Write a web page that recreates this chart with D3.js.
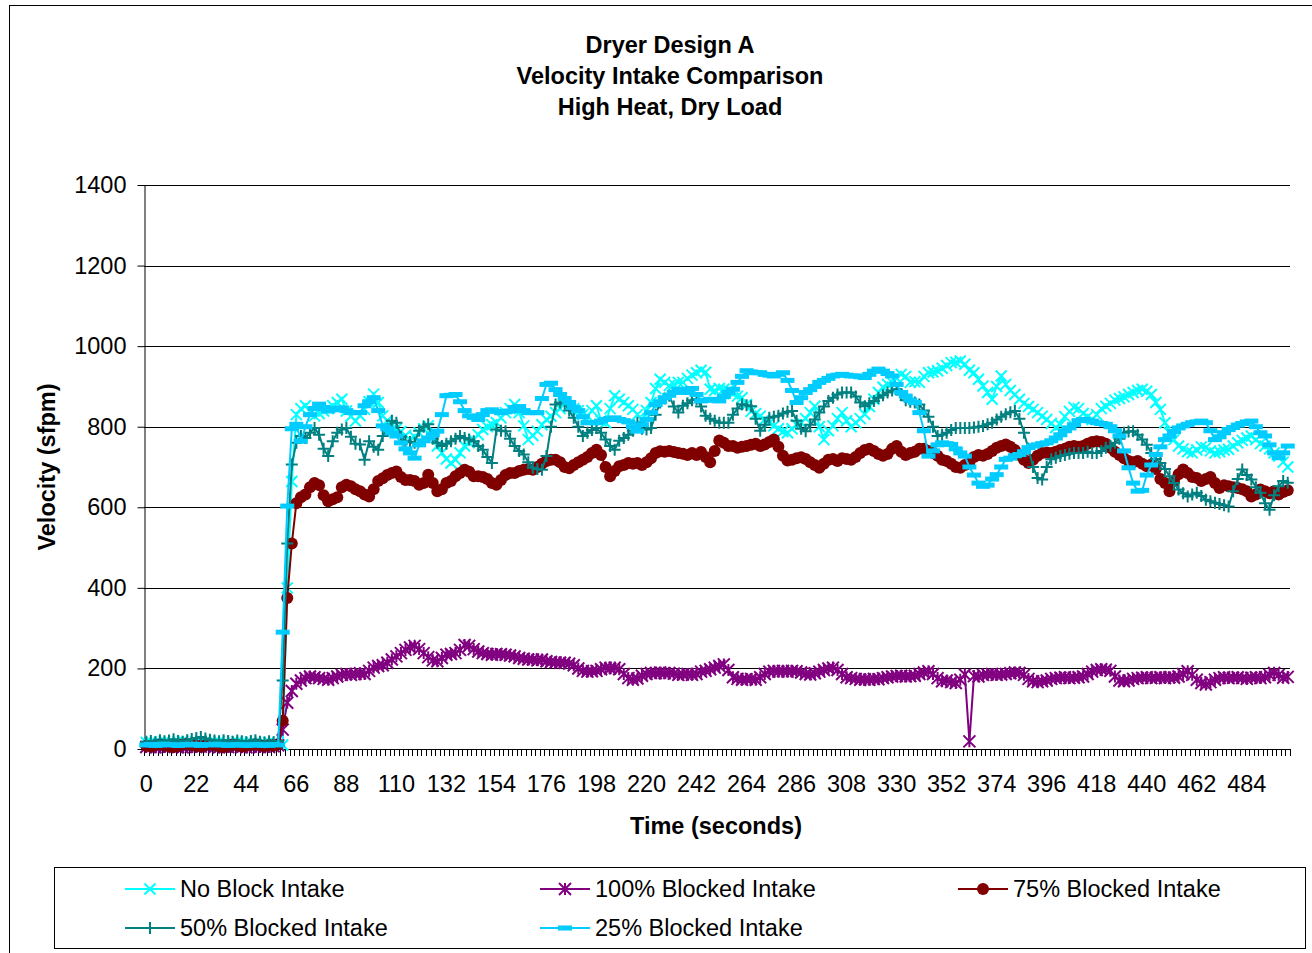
<!DOCTYPE html>
<html>
<head>
<meta charset="utf-8">
<script src="https://cdn.jsdelivr.net/npm/d3@7"></script>
<style>
  body { margin: 0; background: #fff; }
  svg text { font-family: "Liberation Sans", Arial, sans-serif; fill: #000; }
</style>
</head>
<body>
<div id="chart"></div>
<script>
// time axis: one sample every 2 seconds
var times = d3.range(0, 504, 2);
var yTicks = [0, 200, 400, 600, 800, 1000, 1200, 1400];
var titleLines = ["Dryer Design A", "Velocity Intake Comparison", "High Heat, Dry Load"];

var noBlock = [16,18,15,17,19,16,14,18,20,17,15,19,21,18,16,17,19,15,14,17,18,16,15,17,16,14,15,17,16,12,
  10,400,664,830,845,852,838,827,833,839,
  845,852,860,868,839,826,814,828,843,862,
  881,860,827,815,802,795,788,778,768,775,
  785,795,802,775,752,735,720,710,718,735,
  752,760,768,780,793,800,805,810,822,835,
  845,855,835,802,768,778,789,805,818,826,
  835,845,860,852,845,840,830,827,840,852,
  815,810,845,877,868,860,852,843,830,818,
  840,860,895,918,910,902,905,910,910,920,
  928,934,940,935,893,890,895,893,890,882,
  876,872,855,838,832,826,818,810,802,795,
  788,785,795,805,810,820,835,851,800,768,
  790,802,820,835,815,800,810,820,831,850,
  868,885,898,905,910,920,930,925,910,912,
  910,925,934,936,939,945,952,959,960,963,
  955,940,934,918,901,885,868,900,926,905,
  890,880,868,858,850,843,835,826,818,808,
  798,805,825,838,848,845,833,825,818,830,
  845,851,858,866,870,874,880,885,890,893,
  888,880,860,843,810,785,768,752,745,738,
  735,742,750,748,740,735,738,742,744,752,
  760,766,772,777,768,758,752,745,735,727,
  712,700];

var blocked100 = [5,6,4,7,5,6,8,5,4,6,7,5,6,8,7,5,4,6,5,7,6,5,4,6,7,5,6,5,7,9,
  48,115,144,162,170,176,180,178,176,174,
  172,176,180,184,186,184,186,188,186,194,
  202,206,208,214,222,230,238,246,252,256,
  248,238,228,220,218,226,234,236,238,246,
  258,256,248,242,238,236,234,236,235,234,
  232,230,226,224,222,222,220,222,218,216,
  215,214,214,212,208,200,194,192,193,194,
  198,202,200,202,198,186,176,172,175,182,
  186,189,188,190,188,189,187,184,185,186,
  184,186,192,194,198,202,206,210,196,178,
  174,172,173,174,172,178,186,192,194,192,
  194,192,194,193,190,186,185,188,192,196,
  200,202,196,186,178,176,174,172,173,172,
  174,173,176,178,180,181,182,180,181,182,
  186,190,193,186,176,168,170,166,164,172,
  185,19,181,180,184,185,186,184,185,186,
  188,190,189,184,174,168,166,168,170,174,
  176,177,178,176,177,178,180,186,192,196,
  198,197,194,180,170,168,170,174,176,177,
  178,176,177,178,176,178,177,180,186,193,
  184,172,164,160,166,172,176,178,176,177,
  178,176,174,177,178,176,178,184,189,184,
  177,179];

var blocked75 = [8,6,10,12,9,7,5,8,11,13,10,8,6,9,12,10,7,5,8,11,9,6,8,10,12,9,7,10,8,12,
  70,375,510,610,625,632,650,660,655,630,
  615,620,625,650,656,652,645,640,632,627,
  645,665,672,680,685,689,675,668,668,665,
  656,660,681,660,640,645,660,665,677,685,
  693,688,677,677,675,670,660,656,668,680,
  685,685,690,693,695,693,700,708,715,718,
  718,712,700,697,705,712,718,725,735,743,
  730,700,677,690,702,705,710,708,710,705,
  712,722,735,739,738,740,737,735,733,730,
  735,730,737,725,712,740,766,760,752,752,
  748,750,752,755,758,752,756,762,768,750,
  728,716,718,722,724,720,712,705,698,708,
  718,720,715,722,720,718,725,735,742,745,
  740,732,728,732,745,752,738,730,735,738,
  745,745,740,735,728,718,715,708,700,698,
  705,712,725,730,728,732,740,748,752,756,
  750,742,730,718,710,718,728,735,736,735,
  738,742,745,750,752,750,752,758,762,764,
  762,758,748,738,730,722,715,712,715,708,
  702,706,695,670,660,640,665,682,694,685,
  675,673,665,670,675,660,648,655,652,650,
  648,645,640,627,632,644,640,635,640,632,
  638,642];

var blocked50 = [18,20,17,22,19,21,24,20,18,22,25,27,30,26,23,21,19,22,20,18,21,19,17,20,22,18,16,19,17,20,
  170,510,706,760,777,772,785,797,780,745,
  727,764,785,793,797,775,758,756,718,764,
  750,743,777,795,815,810,775,765,762,760,
  790,800,806,770,760,752,758,764,770,777,
  772,768,764,752,743,725,710,793,790,789,
  770,752,740,731,712,698,695,693,727,800,
  855,860,858,840,822,800,777,785,792,797,
  785,768,752,743,765,772,780,790,810,795,
  793,797,830,860,870,877,850,835,852,858,
  866,868,850,827,820,815,810,810,810,830,
  845,856,853,851,820,790,805,822,825,827,
  833,837,839,815,795,789,805,818,835,850,
  864,872,880,885,885,885,875,860,851,858,
  864,872,878,885,890,893,880,866,862,860,
  855,840,825,800,777,780,785,792,797,797,
  797,797,798,800,802,806,810,818,825,831,
  836,839,820,785,745,700,673,669,700,719,
  723,727,730,733,735,735,735,738,735,735,
  740,748,752,760,770,785,788,789,780,768,
  755,735,720,710,695,677,660,644,635,627,
  632,636,628,619,615,611,608,605,602,640,
  670,694,680,669,650,636,610,594,630,652,
  665,661];

var blocked25 = [10,11,9,10,12,11,10,9,10,11,12,10,9,11,10,12,11,10,9,10,11,10,9,10,11,10,9,10,11,10,
  290,603,795,806,764,800,830,845,856,848,
  839,842,845,847,840,835,835,835,852,862,
  872,840,802,795,785,777,760,745,735,722,
  755,765,772,780,789,830,877,878,880,862,
  840,827,823,818,830,840,842,838,835,837,
  839,848,850,840,835,835,835,870,905,908,
  892,880,870,860,848,840,825,810,810,810,
  814,818,820,822,818,815,812,800,789,805,
  818,835,855,862,872,878,885,893,888,885,
  895,880,864,866,868,866,864,875,885,893,
  910,925,939,936,934,934,930,928,926,930,
  934,915,890,860,872,885,892,900,910,915,
  920,926,928,930,928,926,926,924,922,930,
  938,943,938,932,926,905,885,876,866,860,
  835,790,727,740,755,760,758,756,745,735,
  727,700,680,660,652,655,670,681,700,719,
  722,728,731,738,748,752,755,758,760,765,
  772,780,790,797,805,815,818,816,814,810,
  808,806,800,790,777,740,698,660,640,642,
  680,705,731,750,768,777,788,797,802,806,
  810,812,814,810,790,768,775,785,793,798,
  804,808,812,814,800,785,777,755,735,723,
  735,752];

var series = [
  {name: "No Block Intake", values: noBlock, color: "#00FFFF", marker: "times"},
  {name: "100% Blocked Intake", values: blocked100, color: "#800080", marker: "asterisk"},
  {name: "75% Blocked Intake", values: blocked75, color: "#800000", marker: "circle"},
  {name: "50% Blocked Intake", values: blocked50, color: "#008080", marker: "plus"},
  {name: "25% Blocked Intake", values: blocked25, color: "#00CCFF", marker: "dash"}
];

var width = 1312, height = 953;
var plot = {left: 144, right: 1290, top: 185, bottom: 749};
var fontSize = "23.5px";

var svg = d3.select("#chart").append("svg")
    .attr("width", width)
    .attr("height", height);

// chart frame
svg.append("rect")
    .attr("x", 9.5).attr("y", 5.5)
    .attr("width", 1400).attr("height", 1000)
    .attr("fill", "#fff").attr("stroke", "#000");

var x = d3.scaleBand().domain(times).range([plot.left, plot.right]).padding(0);
var y = d3.scaleLinear().domain([0, 1400]).range([plot.bottom, plot.top]);
var cx = function(t){ return x(t) + x.bandwidth() / 2; };

// title
svg.append("g").selectAll("text")
    .data(titleLines)
    .enter().append("text")
    .attr("x", 670)
    .attr("y", function(d, i){ return 53 + i * 31; })
    .attr("text-anchor", "middle")
    .style("font-size", fontSize)
    .style("font-weight", "bold")
    .text(function(d){ return d; });

// gridlines
svg.append("g").selectAll("line")
    .data(yTicks.filter(function(v){ return v > 0; }))
    .enter().append("line")
    .attr("x1", plot.left).attr("x2", plot.right)
    .attr("y1", function(d){ return Math.round(y(d)) + 0.5; })
    .attr("y2", function(d){ return Math.round(y(d)) + 0.5; })
    .attr("stroke", "#000").attr("stroke-width", 1);

// y axis
var yAxis = svg.append("g")
    .attr("transform", "translate(" + (plot.left + 0.5) + ",0)")
    .call(d3.axisLeft(y).tickValues(yTicks).tickFormat(d3.format("d"))
      .tickSize(7).tickSizeOuter(0).tickPadding(11));
yAxis.selectAll("text").style("font-size", fontSize);
yAxis.selectAll("line, path").attr("stroke", "#000");

// x axis: ticks sit between categories, labels every 11th
var xg = svg.append("g");
xg.append("line")
    .attr("x1", plot.left).attr("x2", plot.right)
    .attr("y1", plot.bottom + 0.5).attr("y2", plot.bottom + 0.5)
    .attr("stroke", "#000");
xg.selectAll("line.tick")
    .data(d3.range(times.length + 1))
    .enter().append("line")
    .attr("class", "tick")
    .attr("x1", function(k){ return Math.round(plot.left + k * x.step()) + 0.5; })
    .attr("x2", function(k){ return Math.round(plot.left + k * x.step()) + 0.5; })
    .attr("y1", plot.bottom).attr("y2", plot.bottom + 7)
    .attr("stroke", "#000");
xg.selectAll("text")
    .data(times.filter(function(t, i){ return i % 11 === 0; }))
    .enter().append("text")
    .attr("x", cx)
    .attr("y", plot.bottom + 43)
    .attr("text-anchor", "middle")
    .style("font-size", fontSize)
    .text(function(d){ return d; });

// axis titles
svg.append("text")
    .attr("x", 716).attr("y", 834)
    .attr("text-anchor", "middle")
    .style("font-size", fontSize).style("font-weight", "bold")
    .text("Time (seconds)");
svg.append("text")
    .attr("transform", "translate(55,467) rotate(-90)")
    .attr("text-anchor", "middle")
    .style("font-size", fontSize).style("font-weight", "bold")
    .text("Velocity (sfpm)");

function drawMarker(g, type, color, px, py) {
  var h = type === "asterisk" ? 6 : 5.5;
  if (type === "circle") {
    g.append("circle").attr("cx", px).attr("cy", py).attr("r", 6).attr("fill", color);
  } else if (type === "dash") {
    g.append("rect").attr("x", px - 7).attr("y", py - 2.5).attr("width", 14).attr("height", 5).attr("fill", color);
  } else {
    var d = "";
    if (type === "times" || type === "asterisk") {
      d += "M" + (px - h) + "," + (py - h) + "L" + (px + h) + "," + (py + h);
      d += "M" + (px - h) + "," + (py + h) + "L" + (px + h) + "," + (py - h);
    }
    if (type === "asterisk") {
      d += "M" + px + "," + (py - h) + "L" + px + "," + (py + h);
    }
    if (type === "plus") {
      d += "M" + (px - 6) + "," + py + "L" + (px + 6) + "," + py;
      d += "M" + px + "," + (py - 6) + "L" + px + "," + (py + 6);
    }
    g.append("path").attr("d", d).attr("stroke", color).attr("stroke-width", 2).attr("fill", "none");
  }
}

var line = d3.line()
    .x(function(d, i){ return cx(times[i]); })
    .y(function(d){ return y(d); });

series.forEach(function(s){
  var g = svg.append("g");
  g.append("path")
      .attr("d", line(s.values))
      .attr("fill", "none")
      .attr("stroke", s.color)
      .attr("stroke-width", 2);
  s.values.forEach(function(v, i){
    drawMarker(g, s.marker, s.color, cx(times[i]), y(v));
  });
});

// legend
var legend = svg.append("g");
legend.append("rect")
    .attr("x", 54.5).attr("y", 867.5)
    .attr("width", 1251).attr("height", 81)
    .attr("fill", "#fff").attr("stroke", "#000");
var colX = [125, 540, 958];
var rowY = [889, 928];
series.forEach(function(s, k){
  var lx = colX[k % 3], ly = rowY[Math.floor(k / 3)];
  var item = legend.append("g");
  item.append("line")
      .attr("x1", lx).attr("x2", lx + 50)
      .attr("y1", ly).attr("y2", ly)
      .attr("stroke", s.color).attr("stroke-width", 2);
  drawMarker(item, s.marker, s.color, lx + 25, ly);
  item.append("text")
      .attr("x", lx + 55).attr("y", ly + 8)
      .style("font-size", fontSize)
      .text(s.name);
});
</script>
</body>
</html>
